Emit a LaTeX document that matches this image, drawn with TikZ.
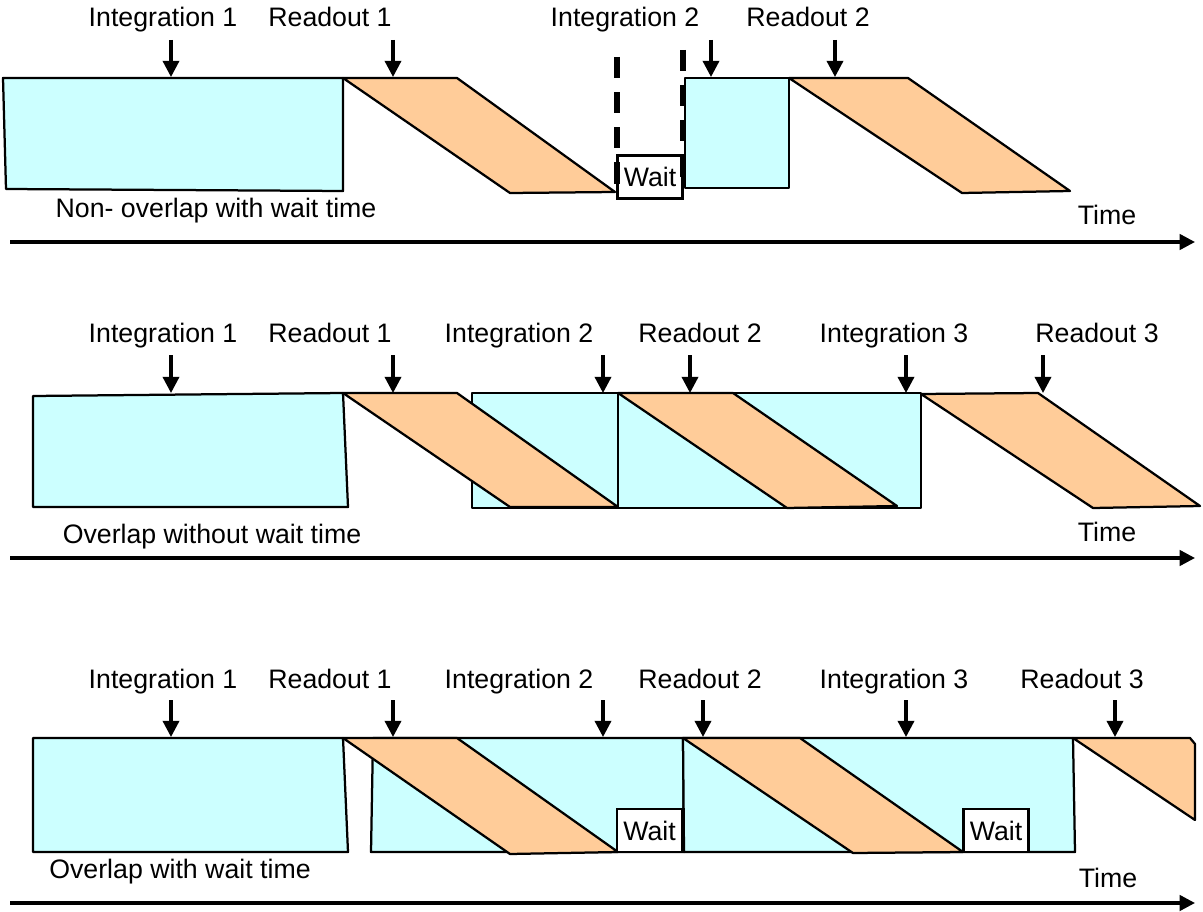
\documentclass[tikz,border=0pt]{standalone}
\usepackage{fontspec}
\setmainfont{Liberation Sans}
\usetikzlibrary{arrows.meta,positioning}
\definecolor{intfill}{HTML}{CCFFFF}
\definecolor{rdfill}{HTML}{FFCC99}

\begin{document}
\begin{tikzpicture}[
  x=0.025cm, y=-0.025cm,
  every node/.style={font=\fontsize{19}{22}\selectfont, inner sep=0pt},
  integ/.style={draw, fill=intfill, line width=1.6pt, line join=round},
  rdout/.style={draw, fill=rdfill, line width=1.6pt, line join=round},
  waitbox/.style={draw, fill=white, line width=1.6pt, minimum width=1.63cm, minimum height=1.07cm, text depth=-2pt},
  lbl/.style={anchor=base},
  arr/.style={-{Triangle[length=11.5pt, width=11.5pt]}, line width=2.3pt},
  axis/.style={-{Triangle[length=11pt, width=11pt]}, line width=2.4pt},
  gap/.style={line width=4pt, dash pattern=on 15pt off 10pt}
]
\useasboundingbox (0,0) rectangle (1203,912);

% non-overlap with wait time
\draw[integ] (3,78) -- (343,78) -- (343,191) -- (6,189) -- cycle;
\draw[rdout] (343,78) -- (457,78) -- (615,192) -- (510,193) -- cycle;
\node[waitbox] (waita) at (650,177) {Wait};
\draw[gap] (617,57) -- (617,197);
\draw[gap] (683,50) -- (683,190);
\draw[integ] (685,78) rectangle (789,188);
\draw[rdout] (789,78) -- (908,78) -- (1070,191) -- (962,193) -- cycle;
\node[lbl] (int1a) at (163,27) {Integration 1};
\node[lbl] (rd1a) at (330,27) {Readout 1};
\node[lbl] (int2a) at (625,27) {Integration 2};
\node[lbl] (rd2a) at (808,27) {Readout 2};
\draw[arr] (171,40) -- (171,77);
\draw[arr] (393,40) -- (393,77);
\draw[arr] (711,40) -- (711,77);
\draw[arr] (835,40) -- (835,77);
\node[lbl] (capa) at (216,218) {Non- overlap with wait time};
\node[lbl] (timea) at (1107,225) {Time};
\draw[axis] (10,242) -- (1195,242);

% overlap without wait time
\draw[integ] (33,396) -- (343,393) -- (348,507) -- (33,507) -- cycle;
\draw[integ] (472,393) rectangle (618,508);
\draw[integ] (618,393) rectangle (921,508);
\draw[rdout] (343,393) -- (457,393) -- (618,507) -- (510,507) -- cycle;
\draw[rdout] (618,393) -- (733,393) -- (897,506) -- (787,508) -- cycle;
\draw[rdout] (921,394) -- (1038,393) -- (1200,506) -- (1093,508) -- cycle;
\node[lbl] (int1b) at (163,343) {Integration 1};
\node[lbl] (rd1b) at (330,343) {Readout 1};
\node[lbl] (int2b) at (519,343) {Integration 2};
\node[lbl] (rd2b) at (700,343) {Readout 2};
\node[lbl] (int3b) at (894,343) {Integration 3};
\node[lbl] (rd3b) at (1097,343) {Readout 3};
\draw[arr] (171,355) -- (171,393);
\draw[arr] (393,355) -- (393,393);
\draw[arr] (603,355) -- (603,393);
\draw[arr] (690,355) -- (690,393);
\draw[arr] (906,355) -- (906,393);
\draw[arr] (1043,355) -- (1043,393);
\node[lbl] (capb) at (212,543) {Overlap without wait time};
\node[lbl] (timeb) at (1107,541) {Time};
\draw[axis] (10,558) -- (1195,558);

% overlap with wait time
\draw[integ] (33,738) -- (343,738) -- (348,852) -- (33,852) -- cycle;
\draw[integ] (373,738) -- (683,738) -- (684,852) -- (371,852) -- cycle;
\draw[integ] (683,738) -- (1073,738) -- (1075,852) -- (684,852) -- cycle;
\draw[rdout] (343,738) -- (457,738) -- (618,852) -- (510,854) -- cycle;
\draw[rdout] (683,738) -- (800,738) -- (963,852) -- (853,853) -- cycle;
\draw[rdout] (1073,738) -- (1190,738) -- (1195,744) -- (1195,820) -- cycle;
\node[waitbox] (waitc) at (649.5,830.5) {Wait};
\node[waitbox] (waitd) at (996,830.5) {Wait};
\node[lbl] (int1c) at (163,688) {Integration 1};
\node[lbl] (rd1c) at (330,688) {Readout 1};
\node[lbl] (int2c) at (519,688) {Integration 2};
\node[lbl] (rd2c) at (700,688) {Readout 2};
\node[lbl] (int3c) at (894,688) {Integration 3};
\node[lbl] (rd3c) at (1082,688) {Readout 3};
\draw[arr] (171,700) -- (171,737);
\draw[arr] (393,700) -- (393,737);
\draw[arr] (603,700) -- (603,737);
\draw[arr] (703,700) -- (703,737);
\draw[arr] (906,700) -- (906,737);
\draw[arr] (1115,700) -- (1115,737);
\node[lbl] (capc) at (180,878) {Overlap with wait time};
\node[lbl] (timec) at (1108,887) {Time};
\draw[axis] (10,903) -- (1195,903);
\end{tikzpicture}
\end{document}
